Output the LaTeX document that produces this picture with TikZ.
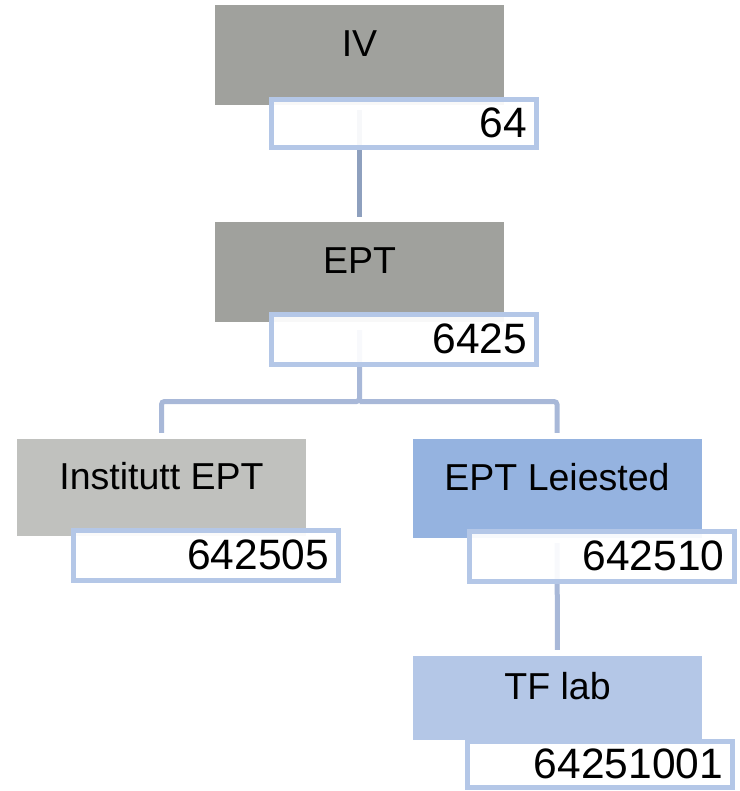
\documentclass[tikz,border=0pt]{standalone}
\usepackage{fontspec}
\setmainfont{Liberation Sans}
\definecolor{graydark}{HTML}{A0A19D}
\definecolor{graylight}{HTML}{C0C1BE}
\definecolor{bluemid}{HTML}{95B3E0}
\definecolor{bluelight}{HTML}{B4C7E7}
\definecolor{labline}{HTML}{B4C7E7}
\definecolor{conndark}{HTML}{8EA0BE}
\definecolor{connlight}{HTML}{A8B8D8}
\begin{document}
\begin{tikzpicture}[x=1pt,y=-1pt,
  box/.style={rectangle, minimum width=289pt, minimum height=100pt, inner sep=0pt,
    text height=27pt, text depth=24pt, font=\fontsize{37.5}{40}\selectfont},
  lab/.style={rectangle, draw=labline, line width=5pt, fill=white, fill opacity=0.93,
    text opacity=1, minimum width=265pt, minimum height=50pt, text width=246pt,
    inner xsep=9.5pt, inner ysep=0pt, align=right, text height=30pt, text depth=2pt,
    font=\fontsize{42.5}{46}\selectfont},
  conn/.style={line width=5pt, rounded corners=3pt}
]
\useasboundingbox (0,0) rectangle (739,791);
% main boxes
\node[box, fill=graydark] (iv) at (359.5,55) {IV};
\node[box, fill=graydark] (ept) at (359.5,272) {EPT};
\node[box, fill=graylight, minimum height=97pt] (inst) at (161.5,487.5) {Institutt EPT};
\node[box, fill=bluemid, minimum height=99pt] (lei) at (557,488.5) {EPT Leiested};
\node[box, fill=bluelight, minimum height=84pt] (tf) at (557.5,698) {TF lab};
% connectors
\coordinate (bus) at (359.5,401.5);
\draw[conn, conndark, shorten <=5pt, shorten >=5pt] (iv.south) -- (ept.north);
\draw[conn, connlight, shorten <=8pt, shorten >=6pt] (ept.south) -- (bus) -| (inst.north);
\draw[conn, connlight, shorten >=6pt] (bus) -| (lei.north);
\draw[conn, connlight, shorten <=5pt, shorten >=6pt] (lei.south) -- (tf.north);
% code labels
\node[lab, minimum height=48pt] (l64) at (404,123.5) {64};
\node[lab] (l6425) at (404,339.5) {6425};
\node[lab] (l642505) at (206,555.5) {642505};
\node[lab] (l642510) at (601.5,556.5) {642510};
\node[lab, minimum height=46pt] (l64251001) at (600,764.5) {64251001};
\end{tikzpicture}
\end{document}
